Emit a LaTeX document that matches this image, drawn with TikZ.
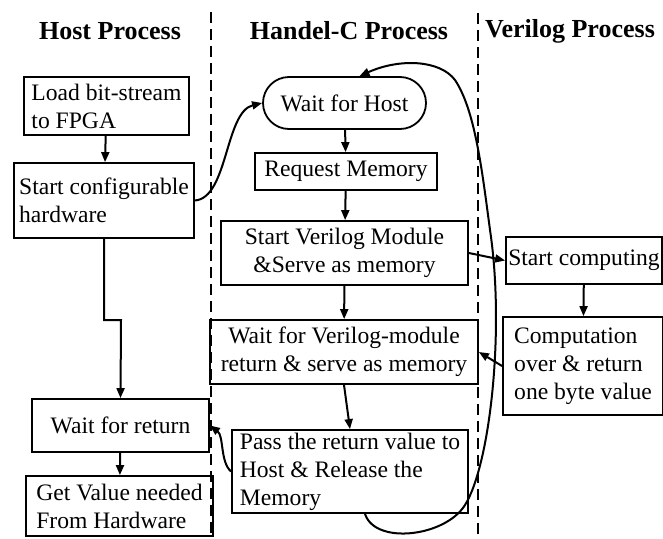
\documentclass[tikz,border=0pt]{standalone}
\usepackage{fontspec}
\setmainfont{Liberation Serif}
\usetikzlibrary{arrows.meta,positioning,calc}

\begin{document}
\begin{tikzpicture}[x=1pt,y=-1pt,
    box/.style={draw,line width=1.8pt,inner xsep=2pt,inner ysep=0pt,font=\fontsize{23.6}{28}\selectfont},
    arr/.style={-{Triangle[length=10pt,width=8pt]},line width=2pt},
    title/.style={font=\fontsize{26}{30}\selectfont\bfseries},
    lane/.style={line width=2.6pt,dash pattern=on 11pt off 6pt}]
	\useasboundingbox (0,0) rectangle (663,538);

	% Lanes
	\draw[lane] (211,12) -- (211,538);
	\draw[lane] (478,13) -- (478,538);
	\node[title] (hostT) at (110,31) {Host Process};
	\node[title] (handelT) at (349,31) {Handel-C Process};
	\node[title] (verT) at (570,31) {Verilog Process};

	% Host process
	\node[box,minimum width=165pt,minimum height=58pt,align=left] (load) at (106.5,106) {Load bit-stream\\to FPGA};
	\node[box,minimum width=180pt,minimum height=75pt,align=left] (startHW) at (104,200.5) {Start configurable\\hardware};
	\node[box,minimum width=177pt,minimum height=53pt,align=center] (waitRet) at (120.5,425.5) {Wait for return};
	\node[box,minimum width=187pt,minimum height=60pt,align=left] (getVal) at (119.5,506) {Get Value needed\\From Hardware};

	% Handel-C process
	\node[box,rounded corners=26pt,minimum width=163pt,minimum height=52pt,align=center] (waitHost) at (344.5,103) {Wait for Host};
	\node[box,minimum width=182pt,minimum height=37pt,align=center] (reqMem) at (346,171.5) {Request Memory};
	\node[box,minimum width=247pt,minimum height=64pt,align=center] (startVer) at (344.5,253) {Start Verilog Module\\\&Serve as memory};
	\node[box,minimum width=268pt,minimum height=64pt,align=center] (waitVer) at (344,352) {Wait for Verilog-module\\return \& serve as memory};
	\node[box,minimum width=236pt,minimum height=83pt,align=left] (passRet) at (350,471.5) {Pass the return value to\\Host \& Release the\\Memory};

	% Verilog process
	\node[box,minimum width=156pt,minimum height=47pt,align=left] (startComp) at (584,260.5) {Start computing};
	\node[box,minimum width=160pt,minimum height=98pt,align=left] (compOver) at (583,366) {Computation\\over \& return\\one byte value};

	% Arrows
	\coordinate (hbend) at (121,320);
	\draw[arr] (load) -- (startHW);
	\draw[arr] (startHW.south) |- (hbend) -- (waitRet.north);
	\draw[arr] (waitRet) -- (getVal);
	\draw[arr] (startHW.east) .. controls (228,198) and (225,112) .. (waitHost.west);
	\draw[arr] (waitHost) -- (reqMem);
	\draw[arr] (reqMem) -- (startVer);
	\draw[arr] (startVer) -- (waitVer);
	\draw[arr] (waitVer.south) -- (passRet.north);
	\draw[arr] (startVer.east) -- (startComp.west);
	\draw[arr] (startComp) -- (compOver);
	\draw[arr] (compOver.west) -- (waitVer.east);
	\draw[arr] (passRet.west) .. controls (220,462) and (224,436) .. (waitRet.east);
	\draw[arr] ([xshift=15pt]passRet.south) .. controls (375,545) and (445,537) .. (465,505)
		.. controls (490,465) and (505,330) .. (490,230)
		.. controls (482,170) and (475,110) .. (455,80)
		.. controls (440,60) and (400,58) .. ([xshift=15pt]waitHost.north);
\end{tikzpicture}
\end{document}
